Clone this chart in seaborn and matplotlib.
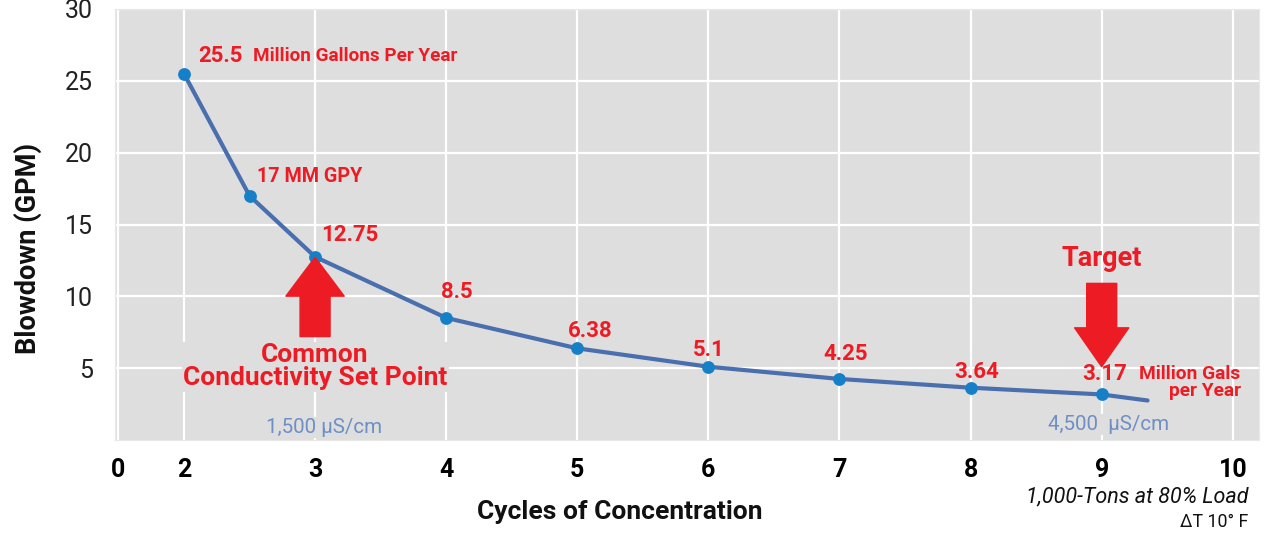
import seaborn as sns
import pandas as pd
import matplotlib.pyplot as plt

# blowdown (GPM) vs cycles of concentration
cycles = [2, 2.5, 3, 4, 5, 6, 7, 8, 9]
blowdown = [25.5, 17, 12.75, 8.5, 6.38, 5.1, 4.25, 3.64, 3.17]
value_labels = ['25.5', '17 MM GPY', '12.75', '8.5', '6.38', '5.1', '4.25', '3.64', '3.17']
# the curve runs on a bit past the last marker
tail_cycle = [9.35]
tail_blowdown = [2.75]

xtick_values = [1.5, 2, 3, 4, 5, 6, 7, 8, 9, 10]
xtick_labels = ['0', '2', '3', '4', '5', '6', '7', '8', '9', '10']
ytick_values = [5, 10, 15, 20, 25, 30]

RED = '#ed1c24'
LINE = '#4a6fae'
MARK = '#1580c8'
MU_BLUE = '#6f8fc4'
BG = '#dedede'

sns.set_style('darkgrid', {'axes.facecolor': BG, 'grid.color': 'white',
                           'axes.edgecolor': '#e8e8e8'})
plt.rcParams['font.family'] = ['Roboto', 'DejaVu Sans']

fig = plt.figure(figsize=(12.72, 5.34), dpi=100)
ax = fig.add_axes([115 / 1272, 1 - 440 / 534, 1144 / 1272, 431 / 534])

curve = pd.DataFrame({'cycles': cycles + tail_cycle, 'blowdown': blowdown + tail_blowdown})
points = pd.DataFrame({'cycles': cycles, 'blowdown': blowdown})
sns.lineplot(data=curve, x='cycles', y='blowdown', ax=ax, color=LINE, linewidth=3, sort=False)
sns.scatterplot(data=points, x='cycles', y='blowdown', ax=ax, color=MARK, s=85,
                edgecolor=MARK, linewidth=0, zorder=3)

ax.set_xlim(1.474, 10.2)
ax.set_ylim(0, 30)
ax.set_xticks(xtick_values)
ax.set_xticklabels(xtick_labels, fontsize=18, fontweight='bold', color='black')
ax.set_yticks(ytick_values)
ax.set_yticklabels([str(v) for v in ytick_values], fontsize=18, color='#222222')
ax.tick_params(axis='x', length=0, pad=13)
ax.tick_params(axis='y', length=0, pad=16)
ax.grid(True, color='white', linewidth=1.6)

ax.set_xlabel('Cycles of Concentration', fontsize=19, fontweight='bold', color='#111111')
ax.xaxis.set_label_coords(0.441, -0.14)
ax.set_ylabel('Blowdown (GPM)', fontsize=19.5, fontweight='bold', color='#111111')
ax.yaxis.set_label_coords(-0.064, 0.445)

# value labels next to the markers (offsets in pixels)
label_offsets = [(14, 18), (7, 19), (6, 22), (11, 26), (13, 17), (0, 17), (6, 25), (6, 16), (3, 20)]
label_align = ['left', 'left', 'left', 'center', 'center', 'center', 'center', 'center', 'center']
for cx, by, txt, off, ha in zip(cycles, blowdown, value_labels, label_offsets, label_align):
    size = 14.2 if txt == '17 MM GPY' else 16
    ax.annotate(txt, (cx, by), xytext=off, textcoords='offset pixels', ha=ha, va='center',
                fontsize=size, fontweight='bold', color=RED)

ax.annotate('Million Gallons Per Year', (cycles[0], blowdown[0]), xytext=(69, 18),
            textcoords='offset pixels', ha='left', va='center', fontsize=13.6,
            fontweight='bold', color=RED)
ax.annotate('Million Gals\nper Year', (cycles[-1], blowdown[-1]), xytext=(139, 12),
            textcoords='offset pixels', ha='right', va='center', fontsize=13.8,
            fontweight='bold', color=RED, multialignment='right', linespacing=0.95)

# arrows
ax.annotate('', xy=(3, 12.72), xytext=(3, 7.2),
            arrowprops=dict(arrowstyle='simple,head_length=1.4,head_width=2.1,tail_width=1.08',
                            color=RED, mutation_scale=20, shrinkA=0, shrinkB=0), zorder=4)
ax.annotate('', xy=(9, 5.1), xytext=(9, 10.9),
            arrowprops=dict(arrowstyle='simple,head_length=1.4,head_width=1.95,tail_width=1.08',
                            color=RED, mutation_scale=20, shrinkA=0, shrinkB=0), zorder=4)

ax.text(9, 12.65, 'Target', ha='center', va='center', fontsize=19.5, fontweight='bold', color=RED)
ax.text(3, 5.1, 'Common\nConductivity Set Point', ha='center', va='center', fontsize=19,
        fontweight='bold', color=RED, linespacing=0.95,
        bbox=dict(facecolor=BG, edgecolor='none', pad=1))
ax.text(3.07, 0.87, '1,500 µS/cm', ha='center', va='center', fontsize=14.8, color=MU_BLUE,
        bbox=dict(facecolor=BG, edgecolor='none', pad=1))
ax.text(9.05, 1.08, '4,500  µS/cm', ha='center', va='center', fontsize=14.8, color=MU_BLUE,
        bbox=dict(facecolor=BG, edgecolor='none', pad=1))

fig.text(1248 / 1272, 1 - 497 / 534, '1,000-Tons at 80% Load', ha='right', va='center',
         fontsize=15.5, fontstyle='italic', color='#111111')
fig.text(1248 / 1272, 1 - 522 / 534, 'ΔT 10° F', ha='right', va='center',
         fontsize=12.8, color='#111111')

fig.savefig('out.png', dpi=100)
